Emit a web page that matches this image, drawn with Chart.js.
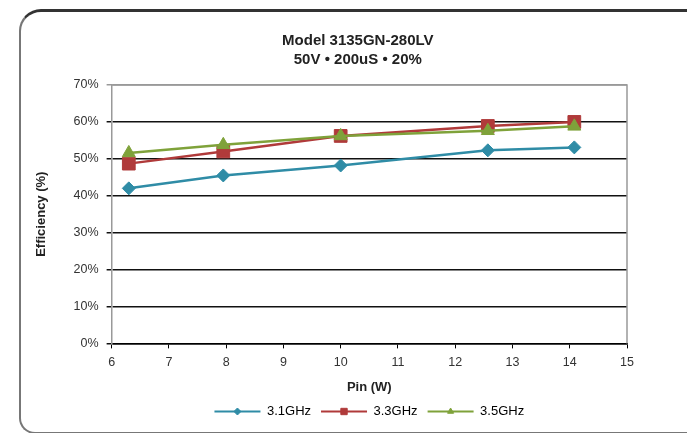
<!DOCTYPE html>
<html>
<head>
<meta charset="utf-8">
<script src="https://cdn.jsdelivr.net/npm/chart.js@4/dist/chart.umd.min.js"></script>
<style>
  html, body { margin: 0; padding: 0; background: #fff; }
  body { width: 687px; height: 433px; position: relative; overflow: hidden; }
  #frame {
    position: absolute; left: 19px; top: 9px; width: 700px; height: 420px;
    border-left: 2px solid #777; border-top: 3px solid #333; border-bottom: 2px solid #777;
    border-top-left-radius: 22px; border-bottom-left-radius: 16px;
  }
  #wrap { position: absolute; left: 0; top: 0; width: 687px; height: 433px; }
</style>
</head>
<body>
<div id="frame"></div>
<div id="wrap"><canvas id="effChart"></canvas></div>
<script>
// Pin (W) for each measurement
const pin = [6.3, 7.95, 10.0, 12.57, 14.08];
// Efficiency (%) per frequency
const eff31 = [42.0, 45.5, 48.2, 52.3, 53.1];
const eff33 = [48.7, 52.0, 56.2, 58.9, 60.0];
const eff35 = [51.6, 53.8, 56.2, 57.6, 58.8];
const seriesNames = ["3.1GHz", "3.3GHz", "3.5GHz"];
const colors = ["#2F8CA6", "#B03A3A", "#7FA23A"];
const markers = ["rectRot", "rect", "triangle"];
const markerSize = [6.5, 9, 7.5];

const font = "'Liberation Sans', Arial, sans-serif";

function pts(vals) {
  return vals.map((v, i) => ({ x: pin[i], y: v }));
}

// grey edge on top and right of the plot
const plotBorder = {
  id: "plotBorder",
  beforeDatasetsDraw(chart) {
    const a = chart.chartArea, ctx = chart.ctx;
    ctx.save();
    ctx.strokeStyle = "#999";
    ctx.lineWidth = 1.5;
    ctx.beginPath();
    ctx.moveTo(a.left, a.top);
    ctx.lineTo(a.right, a.top);
    ctx.lineTo(a.right, a.bottom);
    ctx.stroke();
    ctx.restore();
  }
};

// title sits a bit left of the plot centre in the original
const titleNudge = {
  id: "titleNudge",
  afterLayout(chart) {
    if (chart.titleBlock) chart.titleBlock.left -= 23;
  }
};

// draw the marker in the middle of each legend line
const legendMarkers = {
  id: "legendMarkers",
  afterDraw(chart) {
    const lg = chart.legend;
    if (!lg || !lg.legendHitBoxes) return;
    const ctx = chart.ctx;
    lg.legendHitBoxes.forEach((box, i) => {
      const bw = lg.options.labels.boxWidth;
      const cx = box.left + bw / 2;
      const cy = box.top + box.height / 2;
      ctx.save();
      ctx.fillStyle = colors[i];
      ctx.strokeStyle = colors[i];
      ctx.lineWidth = 1;
      Chart.helpers.drawPoint(ctx, { pointStyle: markers[i], radius: i === 1 ? 4.5 : 3.5, borderWidth: 1 }, cx, cy);
      ctx.restore();
    });
  }
};

new Chart(document.getElementById("effChart"), {
  type: "scatter",
  data: {
    datasets: [eff31, eff33, eff35].map((vals, i) => ({
      label: seriesNames[i],
      data: pts(vals),
      order: 3 - i, // later series drawn on top, like the original
      showLine: true,
      borderColor: colors[i],
      backgroundColor: colors[i],
      borderWidth: 2.5,
      pointStyle: markers[i],
      pointRadius: markerSize[i],
      pointHoverRadius: markerSize[i],
      pointBorderWidth: 1
    }))
  },
  options: {
    responsive: true,
    maintainAspectRatio: false,
    animation: false,
    layout: { padding: { left: 30, right: 60, top: 0, bottom: 5 } },
    plugins: {
      tooltip: { enabled: false },
      title: {
        display: true,
        fullSize: false,
        text: ["Model 3135GN-280LV", "50V \u2022 200uS \u2022 20%"],
        color: "#222",
        font: { family: font, size: 15, weight: "bold", lineHeight: 1.3 },
        padding: { top: 31, bottom: 15 }
      },
      legend: {
        position: "bottom",
        fullSize: false,
        labels: {
          boxWidth: 46,
          boxHeight: 2,
          color: "#444",
          font: { family: font, size: 13 },
          padding: 10,
          generateLabels(chart) {
            return seriesNames.map((n, i) => ({
              text: n, fillStyle: colors[i], strokeStyle: colors[i],
              lineWidth: 0, datasetIndex: i
            }));
          }
        }
      }
    },
    scales: {
      x: {
        type: "linear",
        min: 6, max: 15,
        ticks: { stepSize: 1, color: "#333", font: { family: font, size: 12.5 }, padding: 7 },
        grid: { drawOnChartArea: false, drawTicks: true, tickLength: 5, color: "#000" },
        border: { color: "#000", width: 1.5 },
        title: { display: true, text: "Pin (W)", color: "#222", font: { family: font, size: 13, weight: "bold" }, padding: { top: 2, bottom: 0 } }
      },
      y: {
        min: 0, max: 70,
        ticks: { stepSize: 10, color: "#333", font: { family: font, size: 12.5 }, padding: 8, callback: v => v + "%" },
        grid: {
          color: ctx => (ctx.tick && ctx.tick.value === 70 ? "#999" : "#111"),
          lineWidth: 1.5,
          drawTicks: true, tickLength: 5
        },
        border: { color: "#999", width: 1.5 },
        title: { display: true, text: "Efficiency (%)", color: "#222", font: { family: font, size: 13, weight: "bold" }, padding: { top: 4, bottom: 16 } }
      }
    }
  },
  plugins: [plotBorder, titleNudge, legendMarkers]
});
</script>
</body>
</html>
